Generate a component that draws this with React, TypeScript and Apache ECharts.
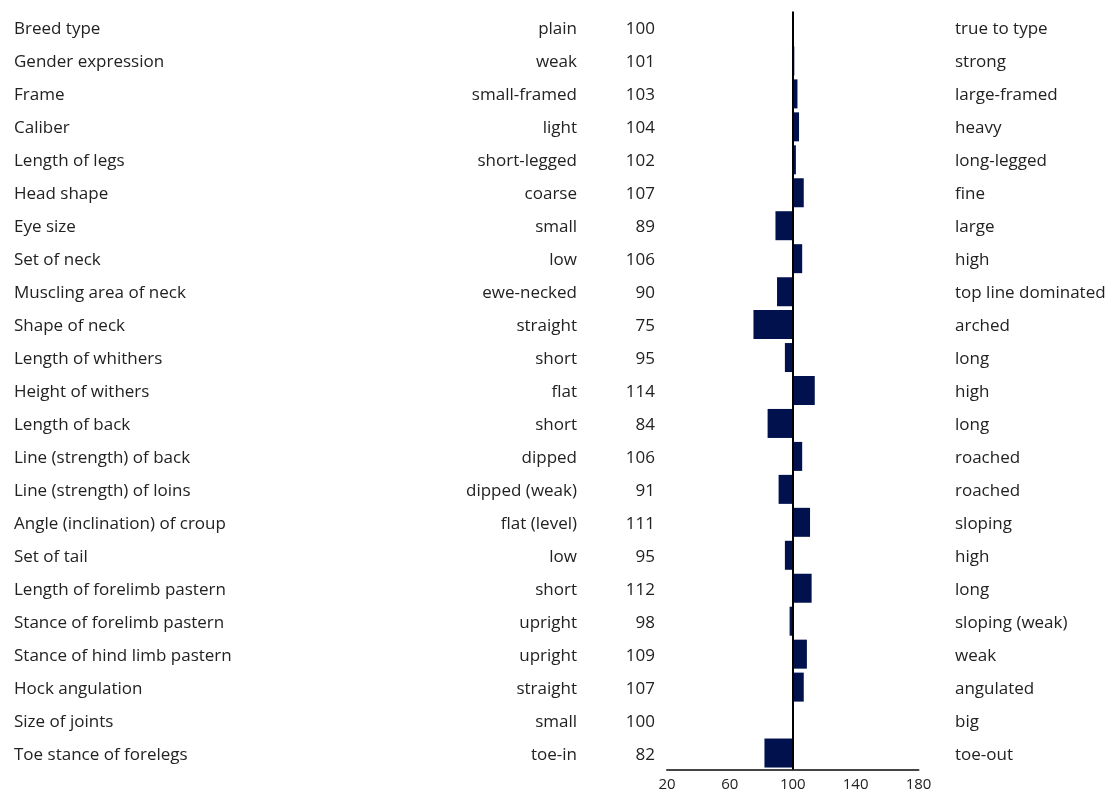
import React, { useEffect, useRef } from "react";
import * as echarts from "echarts";

const traits = [
  "Breed type", "Gender expression", "Frame", "Caliber", "Length of legs", "Head shape",
  "Eye size", "Set of neck", "Muscling area of neck", "Shape of neck", "Length of whithers",
  "Height of withers", "Length of back", "Line (strength) of back", "Line (strength) of loins",
  "Angle (inclination) of croup", "Set of tail", "Length of forelimb pastern",
  "Stance of forelimb pastern", "Stance of hind limb pastern", "Hock angulation",
  "Size of joints", "Toe stance of forelegs",
];
const lowLabels = [
  "plain", "weak", "small-framed", "light", "short-legged", "coarse", "small", "low",
  "ewe-necked", "straight", "short", "flat", "short", "dipped", "dipped (weak)", "flat (level)",
  "low", "short", "upright", "upright", "straight", "small", "toe-in",
];
const highLabels = [
  "true to type", "strong", "large-framed", "heavy", "long-legged", "fine", "large", "high",
  "top line dominated", "arched", "long", "high", "long", "roached", "roached", "sloping",
  "high", "long", "sloping (weak)", "weak", "angulated", "big", "toe-out",
];
const values = [
  100, 101, 103, 104, 102, 107, 89, 106, 90, 75, 95, 114, 84, 106, 91, 111, 95, 112, 98, 109,
  107, 100, 82,
];
const xTicks = [20, 60, 100, 140, 180];
const baseline = 100;

const FONT = "'Open Sans', 'Noto Sans', sans-serif";
const TEXT = "#222222";

export default function App() {
  const ref = useRef<HTMLDivElement>(null);
  useEffect(() => {
    if (!ref.current) return;
    const chart = echarts.init(ref.current, null, { renderer: "svg" });
    const labelBase = { fontFamily: FONT, fontSize: 17, color: TEXT };
    const hiddenCat = {
      type: "category" as const,
      data: traits,
      inverse: true,
      axisLine: { show: false },
      axisTick: { show: false },
      splitLine: { show: false },
    };
    chart.setOption({
      animation: false,
      grid: { left: 667, right: 190.5, top: 11.5, bottom: 22.5, containLabel: false },
      xAxis: {
        type: "value",
        min: xTicks[0],
        max: xTicks[xTicks.length - 1],
        interval: 40,
        axisLine: { show: true, lineStyle: { color: "#444", width: 2 } },
        axisTick: { show: false },
        splitLine: { show: false },
        axisLabel: { fontFamily: FONT, fontSize: 15, color: TEXT, margin: 6, lineHeight: 14 },
      },
      yAxis: [
        {
          ...hiddenCat,
          position: "left",
          axisLabel: { ...labelBase, align: "left", margin: 653, formatter: (_v: string, i: number) => traits[i] },
        },
        {
          ...hiddenCat,
          position: "left",
          axisLabel: { ...labelBase, align: "right", margin: 90, formatter: (_v: string, i: number) => lowLabels[i] },
        },
        {
          ...hiddenCat,
          position: "left",
          axisLabel: { ...labelBase, align: "right", margin: 12, formatter: (_v: string, i: number) => String(values[i]) },
        },
        {
          ...hiddenCat,
          position: "right",
          axisLabel: { ...labelBase, align: "left", margin: 36.5, formatter: (_v: string, i: number) => highLabels[i] },
        },
      ],
      series: [
        {
          type: "bar",
          stack: "s",
          yAxisIndex: 0,
          barCategoryGap: "12%",
          itemStyle: { color: "transparent" },
          silent: true,
          data: values.map((v) => Math.min(v, baseline)),
        },
        {
          type: "bar",
          stack: "s",
          yAxisIndex: 0,
          barCategoryGap: "12%",
          itemStyle: { color: "#00114d" },
          data: values.map((v) => Math.abs(v - baseline)),
          markLine: {
            silent: true,
            symbol: "none",
            label: { show: false },
            lineStyle: { color: "#000", width: 2, type: "solid" },
            data: [{ xAxis: baseline }],
          },
        },
      ],
    });
    return () => chart.dispose();
  }, []);
  return <div ref={ref} style={{ position: "fixed", left: 0, top: 0, width: 1109, height: 792 }} />;
}
